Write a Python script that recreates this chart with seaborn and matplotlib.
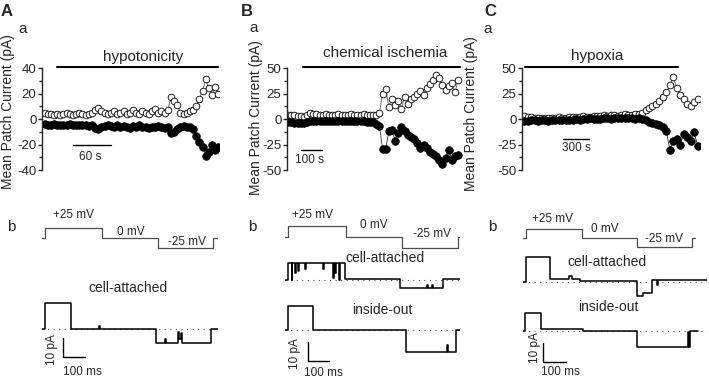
import numpy as np
import seaborn as sns
import matplotlib.pyplot as plt
from matplotlib.ticker import MultipleLocator

# ---- top row: mean patch current (pA) vs time (s) ----
# A - hypotonicity, every 5 s
dt_A = 5
open_A = [4.5, 4, 4, 3.5, 4,
          3.5, 4, 4.5, 4, 3.5, 4, 5, 4, 3.5, 4, 5,
          7, 9, 6, 5,
          4, 5, 6, 4, 5, 6, 4, 5, 7, 5, 4, 6, 5, 4, 6, 8, 5, 6, 5, 7,
          17, 14, 11, 5,
          4, 5, 6, 7,
          10, 16, 22, 31, 24, 19, 25, 20]
filled_A = [-4, -5, -4.5, -4, -5,
            -4.5, -5, -5, -4, -4.5, -5, -5, -4.5, -5, -5.5, -5,
            -7, -8, -6, -5.5,
            -5, -5.5, -6, -5, -6, -5.5, -6, -7, -5.5, -6, -5, -6, -6.5, -7, -6, -6, -5.5, -6, -7, -6,
            -11, -10, -8, -6,
            -5.5, -6, -6, -8,
            -13, -18, -22, -29, -26, -20, -24, -22]
treat_A = (20, 275)

# B - chemical ischemia, every 15 s
dt_B = 15
open_B = [4, 4, 3.5, 3, 2.5, 2,
          4, 6, 5, 4.5,
          4, 4, 4.5, 4, 4, 4, 4.5, 4, 4, 4, 4.5, 4, 4, 4, 4.5, 4, 4, 4,
          3.5, 6,
          25, 29, 12, 20, 14, 18, 10, 22, 15, 20,
          22, 25, 27, 24, 30, 34,
          38, 43, 40, 33, 28, 32, 35, 26, 38]
filled_B = [-2.5, -3, -3.5, -4, -4, -4,
            -3, -2, -2, -2,
            -2, -2, -2, -2, -2, -2, -2, -2, -2, -2, -2, -2, -2, -2, -2, -2.5, -3, -3,
            -5, -7,
            -29, -29, -12, -11, -22, -14, -8, -12, -16, -18,
            -20, -24, -28, -25, -28, -32,
            -34, -36, -40, -44, -38, -30, -40, -36, -35]
treat_B = (71, 819)

# C - hypoxia, every 40 s
dt_C = 40
open_C = [3, 2, 1.5,
          1, 0.5, 1, 1, 0.5, 1, 1, 1.5, 1, 1, 1.5, 2, 1.5, 2, 2.5, 2,
          2, 3, 3, 3, 4, 3, 3.5, 4, 3, 4, 4.5, 4, 3.5, 4.5, 5, 6,
          9, 11, 13, 15, 18, 22,
          26, 33, 41,
          30, 24, 20, 15, 13, 17, 20]
filled_C = [-2, -1.5, -1,
            -1, -1.5, -1, -1, -1.5, -1, -1, -1, -0.5, -1, -0.5, -0.5, 0, -0.5, 0, 0,
            0.5, 0, 0, 0, 0.5, 0.5, 0, 1, 0.5, 0.5, 1, 1, 0.5, 0, 0.5, 0,
            -1, -3, -4, -5, -6, -8,
            -12, -30, -22,
            -20, -25, -15, -18, -22, -13, -26]
treat_C = (10, 1774)

# ---- bottom row: voltage protocol (mV) and single-channel traces (pA), time in ms ----
vt_A = [0, 14, 273, 527, 777, 800]
v_A = [0, 25, 0, -25, 0]
ca_t_A = [0, 14, 130, 258, 262, 518, 560, 563, 618, 624, 630, 636, 767, 800]
ca_A = [0, 13.5, 0, 1.5, 0, -7.4, -5, -7.4, -1.5, -5, -2, -7.4, 0]

vt_B = [0, 14, 290, 557, 824, 833]
v_B = [0, 25, 0, -25, 0]
ca_t_B = [0, 14, 32, 35, 48, 51, 63, 66, 95, 98, 181, 184, 230, 233, 238, 241, 259, 262,
          286, 548, 675, 680, 700, 704, 754, 833]
ca_B = [0, 9.1, 0, 9.1, 3.5, 9.1, 5, 9.1, 6, 9.1, 6, 9.1, 1, 9.1, 3.5, 9.1, 0, 9.1,
        0.3, -4.4, -2.6, -4.4, -2.6, -4.4, 0.3]
io_t_B = [0, 14, 133, 576, 772, 776, 814, 833]
io_B = [0, 12.6, 0, -11.6, -7.9, -11.6, 0]

vt_C = [0, 13, 257, 496, 735, 748]
v_C = [0, 25, 0, -25, 0]
ca_t_C = [0, 13, 117, 200, 215, 248, 496, 520, 561, 583, 586, 800]
ca_C = [0, 13.2, 1.5, 3, 1.5, 0.5, -7.5, -6, 1, -1.6, 1]
io_t_C = [0, 9, 78, 261, 496, 716, 720, 726, 761]
io_C = [0, 9.5, 0.8, 0, -8.2, -0.5, -8.2, 0]

sns.set_style('ticks')
plt.rcParams['font.family'] = ['Liberation Sans', 'DejaVu Sans']
plt.rcParams['axes.unicode_minus'] = False

W, H = 709, 380
fig = plt.figure(figsize=(W / 100, H / 100), dpi=100)


def px_axes(x0, width, ytop, ybot):
    ax = fig.add_axes([x0 / W, 1 - ybot / H, width / W, (ybot - ytop) / H])
    ax.set_facecolor('none')
    return ax


def top_panel(x0, pps, xlim, ylim, major, dt, opn, fil, treat, label, label_xy,
              bar, bar_txt_xy, bar_txt):
    ax = px_axes(x0, (xlim[1] - xlim[0]) * pps, 68, 170)
    t = np.arange(len(opn)) * dt
    sns.lineplot(x=t, y=opn, ax=ax, color='0.35', lw=0.6, marker='o', markersize=4.8,
                 markerfacecolor='white', markeredgecolor='black', markeredgewidth=0.6)
    sns.lineplot(x=t, y=fil, ax=ax, color='0.2', lw=0.6, marker='o', markersize=5.5,
                 markerfacecolor='black', markeredgecolor='black', markeredgewidth=0.5)
    ax.set_xlim(*xlim)
    ax.set_ylim(*ylim)
    ax.set_xticks([])
    ax.set_xlabel('')
    ax.set_ylabel('')
    ax.yaxis.set_major_locator(MultipleLocator(major))
    ax.yaxis.set_minor_locator(MultipleLocator(major / 2))
    ax.tick_params(axis='y', which='major', length=3, width=1, pad=1, labelsize=9.5)
    ax.tick_params(axis='y', which='minor', length=2.5, width=1)
    for s in ['top', 'right', 'bottom']:
        ax.spines[s].set_visible(False)
    ax.spines['left'].set_linewidth(1)
    # treatment bar
    ax.plot(treat, [ylim[1] + 0.5] * 2, color='black', lw=1.5, clip_on=False)
    ax.text(*label_xy, label, ha='center', va='center', fontsize=11)
    # time scale bar
    ax.plot(bar[:2], [bar[2]] * 2, color='black', lw=1, clip_on=False)
    ax.text(*bar_txt_xy, bar_txt, ha='center', va='center', fontsize=8.5)
    return ax


top_panel(42, 0.632, (-4, 276), (-40, 40), 20, dt_A, open_A, filled_A, treat_A,
          'hypotonicity', (156, 49), (45, 105, -20), (73, -30), '60 s')
top_panel(287, 0.21, (-5, 830), (-50, 50), 25, dt_B, open_B, filled_B, treat_B,
          'chemical ischemia', (462, 65), (62, 162, -30), (104, -40.5), '100 s')
top_panel(522, 0.0867, (-25, 2030), (-50, 50), 25, dt_C, open_C, filled_C, treat_C,
          'hypoxia', (840, 62), (448, 748, -20), (598, -28.5), '300 s')


def trace_axes(x0, ppms, tmax, ybase, ppu, ytop, ybot):
    ax = px_axes(x0, tmax * ppms, ytop, ybot)
    ax.set_xlim(0, tmax)
    ax.set_ylim((ybase - ybot) / ppu, (ybase - ytop) / ppu)
    ax.axis('off')
    return ax


def step(ax, t, lev, color='black', lw=1.1):
    sns.lineplot(x=t, y=list(lev) + [lev[-1]], ax=ax, drawstyle='steps-post',
                 color=color, lw=lw)


def vpanel(x0, ppms, tmax, ybase, ppu, vt, v, txt):
    ax = trace_axes(x0, ppms, tmax, ybase, ppu, 200, 260)
    step(ax, vt, v, color='0.3', lw=0.9)
    for (x, y), s in zip(txt, ['+25 mV', '0 mV', '-25 mV']):
        ax.text(x, y, s, ha='center', va='center', fontsize=8.5)


def ipanel(x0, ppms, tmax, ybase, ytop, ybot, t, lev, name, name_xy):
    ax = trace_axes(x0, ppms, tmax, ybase, 1.9, ytop, ybot)
    ax.axhline(0, color='0.35', lw=0.8, ls=(0, (1, 4)))
    step(ax, t, lev)
    ax.text(*name_xy, name, ha='center', va='center', fontsize=10)
    return ax


def scale_bar(ax, x, ytop, ybot, x_txt1, y_txt1, x_txt2, y_txt2):
    ax.plot([x, x, x + 100], [ytop, ybot, ybot], color='black', lw=1)
    ax.text(x_txt1, y_txt1, '10 pA', rotation=90, ha='center', va='center', fontsize=8.5)
    ax.text(x_txt2, y_txt2, '100 ms', ha='center', va='center', fontsize=8.5)


# A b
vpanel(42, 0.22, 800, 238, 0.4, vt_A, v_A, [(141, 57.5), (405, 16), (658, -11)])
ax = ipanel(42, 0.22, 800, 329, 275, 380, ca_t_A, ca_A, 'cell-attached', (392, 21.6))
scale_bar(ax, 95, -4.7, -14.7, 45, -11, 184, -22.6)

# B b
vpanel(285, 0.21, 833, 237, 0.43, vt_B, v_B, [(133, 51), (421, 28), (700, 8)])
ipanel(285, 0.21, 833, 280, 245, 300, ca_t_B, ca_B, 'cell-attached', (478, 11.6))
ax = ipanel(285, 0.21, 833, 330, 300, 380, io_t_B, io_B, 'inside-out', (464, 10.5))
scale_bar(ax, 111, -6.2, -16.2, 48, -12.4, 183, -22.4)

# C b
vpanel(523, 0.23, 800, 238, 0.36, vt_C, v_C, [(130, 53), (357, 25), (615, -3)])
ipanel(523, 0.23, 800, 282, 245, 300, ca_t_C, ca_C, 'cell-attached', (367, 10.5))
ax = ipanel(523, 0.23, 800, 331, 300, 380, io_t_C, io_C, 'inside-out', (370, 12.6))
scale_bar(ax, 86, -6.3, -16.3, 52, -8.7, 163, -21.8)

# panel letters and y labels
for x, y, s in [(7, 11, 'A'), (247, 11, 'B'), (490, 11, 'C')]:
    fig.text(x / W, 1 - y / H, s, ha='center', va='center', fontsize=12, fontweight='bold')
for x, y, s in [(23, 29, 'a'), (254, 28, 'a'), (488, 29, 'a'),
                (11, 227, 'b'), (252, 227, 'b'), (492, 227, 'b')]:
    fig.text(x / W, 1 - y / H, s, ha='center', va='center', fontsize=11)
for x, y in [(8, 112), (256, 118), (471, 114)]:
    fig.text(x / W, 1 - y / H, 'Mean Patch Current (pA)', rotation=90,
             ha='center', va='center', fontsize=10)

fig.savefig('out.png', dpi=100)
